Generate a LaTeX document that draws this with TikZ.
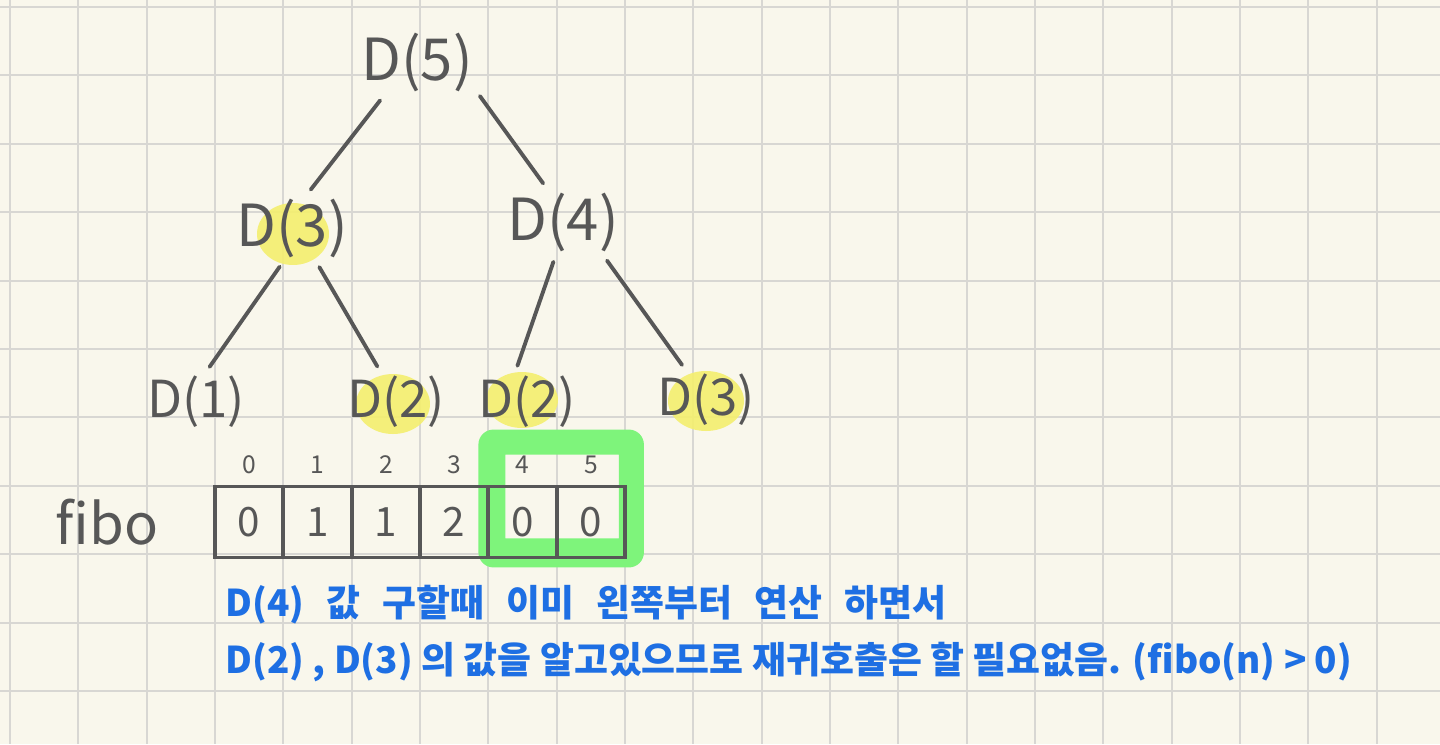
\documentclass[tikz,border=0pt]{standalone}
\usepackage{fontspec}
\setmainfont{Noto Sans CJK KR}
\usetikzlibrary{positioning,backgrounds}
\definecolor{paper}{HTML}{F9F7EC}
\definecolor{gridgray}{HTML}{D8D7D3}
\definecolor{pencil}{HTML}{575757}
\definecolor{marker}{HTML}{F4EF6E}
\definecolor{memo}{HTML}{7EF47B}
\definecolor{ink}{HTML}{1E6FE3}
\begin{document}
\begin{tikzpicture}[
      x=0.02cm,y=-0.02cm,
      call/.style={text=pencil,font=\fontsize{33}{36}\selectfont,inner sep=1pt},
      leaf/.style={call,font=\fontsize{29}{32}\selectfont},
      edge/.style={draw=pencil,line width=2.2pt,line cap=round,shorten <=5pt,shorten >=5pt},
      cell/.style={draw=pencil,line width=2.2pt,minimum width=1.3666cm,minimum height=1.42cm,text=pencil,font=\fontsize{23}{26}\selectfont,inner sep=0pt},
      idx/.style={text=pencil,font=\fontsize{14}{16}\selectfont,inner sep=1pt},
      note/.style={text=ink,font=\fontsize{21}{25}\selectfont\bfseries,anchor=west,inner sep=0pt},
      marked/.style={fill=marker,opacity=0.9},
      gridline/.style={draw=gridgray,line width=1.1pt}
      ]
    \useasboundingbox (0,0) rectangle (1440,744);
    % call tree
    \node[call] (d5) at (417,62) {D(5)};
    \node[call] (d3m) at (292,228) {D(3)};
    \node[call] (d4) at (563,222) {D(4)};
    \node[leaf] (d1) at (196,402) {D(1)};
    \node[leaf] (d2a) at (396,402) {D(2)};
    \node[leaf] (d2b) at (527,402) {D(2)};
    \node[leaf] (d3b) at (706,400) {D(3)};
    \draw[edge] (d5.225) -- (d3m.67); \draw[edge] (d5.335) -- (d4.115);
    \draw[edge] (d3m.257) -- (d1.73); \draw[edge] (d3m.306) -- (d2a.117);
    \draw[edge] (d4.258) -- (d2b.114); \draw[edge] (d4.321) -- (d3b.124);
    % memo array
    \foreach \v [count=\i from 0] in {0,1,1,2,0,0}
      \node[cell] (c\i) at (249.17+68.33*\i,522) {\v};
    \foreach \i in {0,...,5}
      \node[idx,above=5pt of c\i] (i\i) {\i};
    \node[call,font=\fontsize{32}{36}\selectfont,left=1.05cm of c0] (fibo) {fibo};
    \node[note] (line1) at (225,605) {\spaceskip=0.6em D(4) 값 구할때 이미 왼쪽부터 연산 하면서};
    \node[note] (line2) at (225,662) {D(2) , D(3) 의 값을 알고있으므로 재귀호출은 할 필요없음. (fibo(n) > 0)};
    \begin{scope}[on background layer]
      \fill[paper] (0,0) rectangle (1440,744);
      \foreach \k in {0,...,20} \draw[gridline] (10+68.33*\k,0) -- (10+68.33*\k,744);
      \foreach \k in {0,...,10} \draw[gridline] (0,7+68.4*\k) -- (1440,7+68.4*\k);
      \fill[marked] ([shift={(1,6)}]d3m.center) ellipse [x radius=0.72cm, y radius=0.62cm];
      \fill[marked] ([shift={(-3,2)}]d2a.center) ellipse [x radius=0.74cm, y radius=0.6cm];
      \fill[marked] ([shift={(-5,-2)}]d2b.center) ellipse [x radius=0.72cm, y radius=0.56cm];
      \fill[marked] ([shift={(0,1)}]d3b.center) ellipse [x radius=0.76cm, y radius=0.6cm];
      \fill[memo,even odd rule] [rounded corners=0.3cm] ([shift={(-8,-55)}]c4.north west) rectangle ([shift={(17,8)}]c5.south east) [sharp corners] ([shift={(19,-30)}]c4.north west) rectangle ([shift={(-8,-21)}]c5.south east);
    \end{scope}
\end{tikzpicture}
\end{document}
